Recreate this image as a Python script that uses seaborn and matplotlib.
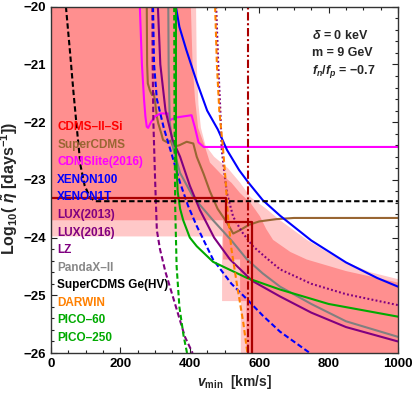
import numpy as np
import matplotlib.pyplot as plt
import seaborn as sns
from matplotlib.ticker import AutoMinorLocator

sns.set_style("ticks")
plt.rcParams['font.family'] = ['Liberation Sans', 'DejaVu Sans']
plt.rcParams['font.weight'] = 'bold'
plt.rcParams['mathtext.fontset'] = 'custom'
plt.rcParams['mathtext.rm'] = 'Liberation Sans:bold'
plt.rcParams['mathtext.it'] = 'Liberation Sans:italic:bold'
plt.rcParams['mathtext.bf'] = 'Liberation Sans:bold'

# CDMS-II-Si best-fit regions (outer = light, inner = dark)
light_v = [0, 418, 420, 425, 432, 445, 470, 510, 545, 575, 620, 660, 740, 833, 920, 1000,
           1000, 547, 547, 493, 493, 0]
light_y = [-20, -20, -21, -21.7, -22.1, -22.4, -22.6, -22.8, -23.05, -23.3, -23.5, -23.7, -24.05,
           -24.38, -24.6, -24.72, -26, -26, -25.1, -25.1, -23.98, -23.98]
dark_v = [0, 403, 408, 415, 424, 444, 458, 490, 520, 545, 575, 602, 620, 640, 690, 737, 850, 1000,
          1000, 563, 563, 545, 545, 496, 496, 0]
dark_y = [-20, -20, -21, -21.6, -22.1, -22.43, -22.7, -22.9, -23.05, -23.23, -23.4, -23.63, -23.85,
          -24.04, -24.25, -24.38, -24.58, -24.78, -26, -26, -25.1, -25.1, -24.38, -24.38, -23.7, -23.7]

# CDMS-II-Si eta steps
cdms_v = [0, 504, 504, 578, 578]
cdms_y = [-23.31, -23.31, -23.73, -23.73, -26.5]
cdms_vline = 569

# upper limits / projections: v_min [km/s], log10(eta)
supercdms_v = [276, 277, 279, 285, 291, 296, 300, 305, 309, 318, 323, 335, 345, 352, 370, 391, 410,
               420, 440, 458, 480, 507, 525, 545, 570, 600, 650, 700, 1000]
supercdms_y = [-20, -21, -21.33, -21.45, -21.53, -21.5, -21.65, -21.9, -22.02, -22.2, -22.31, -22.35,
               -22.32, -22.43, -22.4, -22.34, -22.37, -22.6, -22.9, -23.2, -23.5, -23.74, -23.93,
               -23.87, -23.78, -23.72, -23.68, -23.66, -23.66]
cdmslite_v = [256, 262, 268, 272, 276, 280, 288, 300, 315, 338, 342, 348, 360, 405, 415, 425, 440, 1000]
cdmslite_y = [-20, -21, -21.6, -21.9, -22.08, -22.1, -22.0, -21.9, -21.85, -21.85, -21.97, -21.95,
              -21.92, -21.88, -22.1, -22.35, -22.43, -22.43]
xenon100_v = [360, 370, 390, 420, 450, 481, 507, 542, 568, 610, 660, 750, 850, 940, 1000]
xenon100_y = [-20, -20.35, -20.75, -21.3, -21.8, -22.13, -22.48, -22.83, -23.04, -23.35, -23.62,
              -24.05, -24.43, -24.7, -24.85]
xenon1t_v = [294, 297, 305, 325, 345, 372, 395, 420, 467, 520, 565, 610, 660, 746]
xenon1t_y = [-20, -21, -21.6, -22.1, -22.5, -23.05, -23.45, -23.8, -24.38, -24.8, -25.07, -25.35,
             -25.63, -26]
lux13_v = [476, 482, 488, 492, 500, 507, 525, 550, 582, 620, 660, 750, 850, 1000]
lux13_y = [-20, -21, -21.8, -22.48, -22.9, -23.23, -23.64, -23.9, -24.15, -24.35, -24.55, -24.8,
           -24.98, -25.17]
lux16_v = [308, 315, 330, 350, 372, 400, 429, 470, 516, 580, 660, 750, 850, 1000]
lux16_y = [-20, -21, -21.8, -22.3, -22.6, -23.1, -23.52, -24.0, -24.38, -24.75, -25.02, -25.3,
           -25.55, -25.8]
lz_v = [292, 293, 295, 300, 305, 314, 330, 350, 370, 386, 408]
lz_y = [-20, -21, -22, -23, -23.87, -24.2, -24.6, -25.0, -25.4, -25.72, -26]
pandax_v = [338, 339, 342, 352, 372, 410, 467, 520, 565, 610, 660, 750, 850, 1000]
pandax_y = [-20, -21, -22, -22.45, -22.88, -23.3, -23.7, -24.05, -24.38, -24.62, -24.85, -25.15,
            -25.45, -25.72]
gehv_v = [43, 55, 65, 76, 85, 97, 112, 127, 1000]
gehv_y = [-20, -20.8, -21.5, -22.2, -22.75, -23.1, -23.3, -23.37, -23.37]
darwin_v = [473, 478, 485, 496, 503, 510, 520, 535, 554, 566]
darwin_y = [-20, -21, -21.8, -22.48, -23.0, -23.64, -24.2, -24.78, -25.47, -26]
pico60_v = [360, 360, 365, 372, 381, 400, 420, 467, 565, 660, 800, 1000]
pico60_y = [-20, -22.5, -23.2, -23.5, -23.7, -24.0, -24.15, -24.42, -24.7, -24.9, -25.15, -25.37]
pico250_v = [355, 356, 358, 362, 370, 382, 392]
pico250_y = [-20, -22, -23.5, -24.5, -25.2, -25.7, -26]

labels = ["CDMS–II–Si", "SuperCDMS", "CDMSlite(2016)", "XENON100", "XENON1T", "LUX(2013)",
          "LUX(2016)", "LZ", "PandaX–II", "SuperCDMS Ge(HV)", "DARWIN", "PICO–60", "PICO–250"]
label_colors = ["#ff0000", "#996633", "#ff00ff", "#0000ff", "#0000ff", "#800080", "#800080",
                "#800080", "#888888", "#000000", "#ff8000", "#00aa00", "#00aa00"]

dash = (0, (2.6, 1.4))
curves = [
    (supercdms_v, supercdms_y, "#996633", "-"),
    (cdmslite_v, cdmslite_y, "#ff00ff", "-"),
    (pandax_v, pandax_y, "#808080", "-"),
    (lz_v, lz_y, "#800080", dash),
    (lux16_v, lux16_y, "#800080", "-"),
    (lux13_v, lux13_y, "#800080", (0, (0.9, 1.1))),
    (xenon1t_v, xenon1t_y, "#0000ff", dash),
    (xenon100_v, xenon100_y, "#0000ff", "-"),
    (pico60_v, pico60_y, "#00aa00", "-"),
    (pico250_v, pico250_y, "#00aa00", dash),
    (darwin_v, darwin_y, "#ff8000", dash),
    (gehv_v, gehv_y, "#000000", dash),
]

fig, ax = plt.subplots(figsize=(4.13, 3.94), dpi=100)
fig.subplots_adjust(left=0.1235, right=0.9637, bottom=0.104, top=0.983)

ax.fill(light_v, light_y, color="#ffc8c8", lw=0, zorder=1)
ax.fill(dark_v, dark_y, color="#ff8f8f", lw=0, zorder=1.1)

for xv, yv, col, ls in curves:
    sns.lineplot(x=xv, y=yv, sort=False, estimator=None, color=col, lw=1.5,
                 linestyle=ls, ax=ax, zorder=3)

sns.lineplot(x=cdms_v, y=cdms_y, sort=False, estimator=None, color="#aa0000", lw=1.6,
             ax=ax, zorder=4)
ax.axvline(cdms_vline, color="#aa0000", lw=1.5, linestyle=(0, (4, 1.3, 1, 1.3)), zorder=4)

ax.set_xlim(0, 1000)
ax.set_ylim(-26, -20)
ax.set_xticks(np.arange(0, 1001, 200))
ax.set_yticks(np.arange(-26, -19, 1))
ax.xaxis.set_minor_locator(AutoMinorLocator(4))
ax.yaxis.set_minor_locator(AutoMinorLocator(5))
ax.tick_params(which='both', direction='in', top=True, right=True, width=0.8, colors='#222222',
               labelsize=9.5)
ax.tick_params(which='major', length=4)
ax.tick_params(which='minor', length=2)
for lab in ax.get_xticklabels() + ax.get_yticklabels():
    lab.set_fontweight('bold')
    lab.set_color('black')
for sp in ax.spines.values():
    sp.set_color('#333333')
    sp.set_linewidth(1.0)
    sp.set_zorder(6)

ax.set_xlabel(r"$v_{\rm min}$  [km/s]", fontsize=10, fontweight='bold')
ax.xaxis.set_label_coords(0.53, -0.058)
ax.set_ylabel(r"Log$_{10}$( $\tilde{\eta}$ [days$^{-1}$])", fontsize=11.5, fontweight='bold')
ax.yaxis.set_label_coords(-0.088, 0.476)

label_y = np.linspace(1 - (127 - 6.7) / 346.3, 1 - (338 - 6.7) / 346.3, len(labels))
for txt, col, yy in zip(labels, label_colors, label_y):
    ax.text(0.018, yy, txt, color=col, fontsize=8.5, fontweight='bold', va='center',
            ha='left', transform=ax.transAxes, zorder=5)

notes = [r"$\delta$ = 0 keV", "m = 9 GeV", r"$f_n$/$f_p$ = −0.7"]
for i, t in enumerate(notes):
    ax.text(0.752, 0.918 - 0.052 * i, t, fontsize=9, fontweight='bold', va='center',
            ha='left', transform=ax.transAxes, zorder=5)

fig.savefig("out.png", dpi=100)
